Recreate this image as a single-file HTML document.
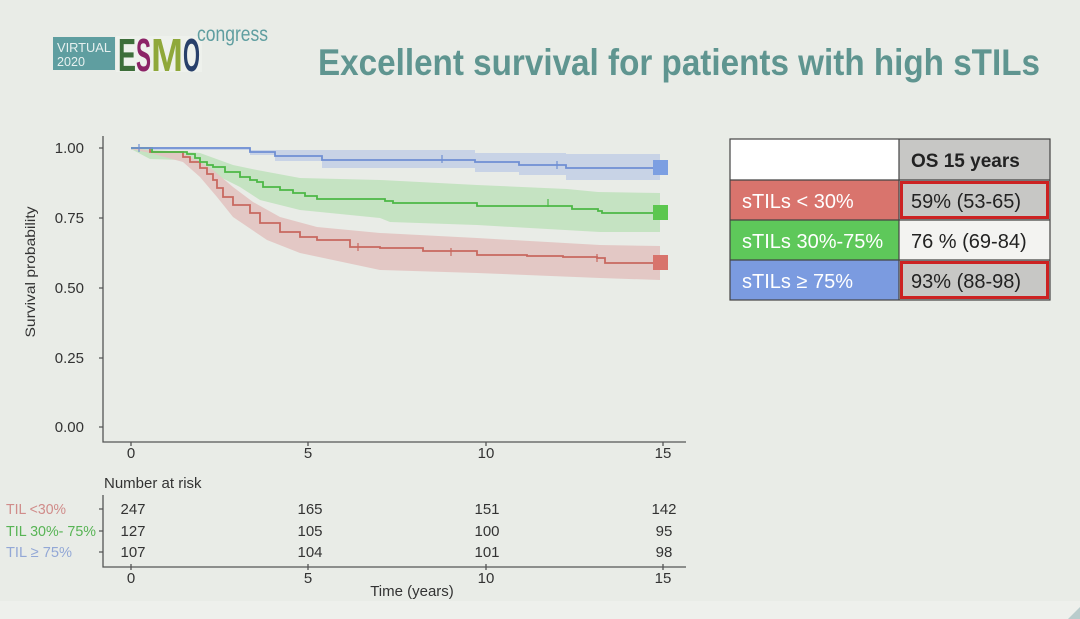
<!DOCTYPE html>
<html><head><meta charset="utf-8">
<style>
html,body{margin:0;padding:0;background:#e9ece7;}
svg{display:block;}
text{font-family:"Liberation Sans",sans-serif;}
</style></head>
<body>
<svg width="1080" height="619" viewBox="0 0 1080 619" xmlns="http://www.w3.org/2000/svg">
<rect width="1080" height="619" fill="#e9ece7"/>
<rect x="0" y="601" width="1080" height="18" fill="#eef0ec"/>
<polygon points="1068,619 1080,607 1080,619" fill="#b9cccc"/>

<!-- Logo -->
<rect x="53" y="37" width="62" height="33" fill="#5f9ea0"/>
<text x="57" y="52" font-size="13" fill="#e6f0ef" textLength="54" lengthAdjust="spacingAndGlyphs">VIRTUAL</text>
<text x="57" y="66" font-size="13" fill="#e6f0ef" textLength="28" lengthAdjust="spacingAndGlyphs">2020</text>
<rect x="116" y="36" width="86" height="36" fill="#eef1ec"/>
<text x="118" y="71" font-size="46" font-weight="bold" fill="#3d6e3a" textLength="18" lengthAdjust="spacingAndGlyphs">E</text>
<text x="136" y="71" font-size="46" font-weight="bold" fill="#8c2467" textLength="15" lengthAdjust="spacingAndGlyphs">S</text>
<text x="151" y="71" font-size="46" font-weight="bold" fill="#8fa83a" textLength="32" lengthAdjust="spacingAndGlyphs">M</text>
<text x="183" y="71" font-size="46" font-weight="bold" fill="#28406a" textLength="17" lengthAdjust="spacingAndGlyphs">O</text>
<text x="197" y="41" font-size="21" fill="#5f9ea0" textLength="71" lengthAdjust="spacingAndGlyphs">congress</text>

<!-- Title -->
<text x="318" y="75" font-size="37" font-weight="bold" fill="#5f9590" textLength="722" lengthAdjust="spacingAndGlyphs">Excellent survival for patients with high sTILs</text>

<!-- Bands -->
<polygon fill="#c8d3e6" points="131,147 250,147 250,150 475,150 475,153 566,153 566,154 660,154 660,180 566,180 566,175 519,175 519,172 475,172 475,168 322,168 322,161 275,161 275,155 250,155 250,150 131,150"/>
<polygon fill="#c3e3c0" fill-opacity="0.95" points="131,147 150,150 187,152 200,153 233,165 257,170 300,178 380,180 477,185 567,189 598,192 660,193 660,232 600,232 477,225 390,222 380,218 300,210 260,200 240,187 210,172 183,160 150,159 131,149"/>
<polygon fill="#e3c6c3" fill-opacity="0.95" points="131,147 150,151 183,153 200,162 213,170 233,187 253,202 280,217 317,227 380,233 477,238 600,245 660,246 660,280 600,278 477,273 380,270 333,260 300,253 267,240 233,217 217,197 200,177 183,162 150,153 131,149"/>

<!-- Lines -->
<path fill="none" stroke="#c8685f" stroke-width="1.8" d="M131,148 H150 V152 H183 V157 H190 V162 H200 V168 H207 V174 H213 V180 H217 V188 H223 V197 H233 V205 H250 V213 H260 V223 H280 V232 H300 V237 H317 V240 H350 V247 H380 V248 H423 V251 H477 V255 H527 V256 H563 V257 H597 V258 H605 V263 H660"/>
<path fill="none" stroke="#4cb846" stroke-width="1.8" d="M131,148 H152 V152 H187 V154 H195 V158 H200 V162 H207 V165 H213 V167 H225 V172 H240 V177 H250 V180 H257 V182 H263 V187 H280 V190 H293 V193 H305 V196 H317 V199 H385 V201 H393 V203 H477 V206 H572 V209 H598 V211 H602 V213 H660"/>
<path fill="none" stroke="#6f8fd3" stroke-width="1.8" d="M131,148 H250 V152 H275 V156 H322 V160 H475 V162 H519 V165 H566 V168 H660"/>
<!-- censor ticks -->
<g stroke-width="1.2">
<path stroke="#6f8fd3" d="M139,144 V152 M442,155 V163 M557,161 V169"/>
<path stroke="#4cb846" d="M548,199 V207"/>
<path stroke="#c8685f" d="M597,254 V262 M358,243 V251 M451,248 V256"/>
</g>

<!-- Markers -->
<rect x="653" y="160" width="15" height="15" fill="#7c9fe2"/>
<rect x="653" y="205" width="15" height="15" fill="#5cc74f"/>
<rect x="653" y="255" width="15" height="15" fill="#d8746c"/>

<!-- Axes main -->
<g stroke="#555" stroke-width="1.3" fill="none">
<path d="M103,136 V442 H686"/>
<path d="M99,148 H103 M99,218 H103 M99,288 H103 M99,358 H103 M99,427 H103"/>
<path d="M131,442 V446 M308,442 V446 M486,442 V446 M663,442 V446"/>
</g>
<g font-size="15" fill="#333" text-anchor="end">
<text x="84" y="153">1.00</text>
<text x="84" y="223">0.75</text>
<text x="84" y="293">0.50</text>
<text x="84" y="363">0.25</text>
<text x="84" y="432">0.00</text>
</g>
<g font-size="15" fill="#333" text-anchor="middle">
<text x="131" y="458">0</text>
<text x="308" y="458">5</text>
<text x="486" y="458">10</text>
<text x="663" y="458">15</text>
</g>
<text transform="translate(35,272) rotate(-90)" font-size="14" fill="#333" text-anchor="middle" textLength="131" lengthAdjust="spacingAndGlyphs">Survival probability</text>

<!-- Risk table -->
<text x="104" y="488" font-size="15" fill="#333">Number at risk</text>
<g stroke="#555" stroke-width="1.3" fill="none">
<path d="M103,495 V567 H686"/>
<path d="M99,509 H103 M99,531 H103 M99,552 H103"/>
<path d="M131,564 V570 M308,564 V570 M486,564 V570 M663,564 V570"/>
</g>
<g font-size="15">
<text x="6" y="514" fill="#d08c8a" textLength="60" lengthAdjust="spacingAndGlyphs">TIL &lt;30%</text>
<text x="6" y="536" fill="#58b455" textLength="90" lengthAdjust="spacingAndGlyphs">TIL 30%- 75%</text>
<text x="6" y="557" fill="#93a8d6" textLength="66" lengthAdjust="spacingAndGlyphs">TIL ≥ 75%</text>
</g>
<g font-size="15" fill="#333" text-anchor="middle">
<text x="133" y="514">247</text><text x="310" y="514">165</text><text x="487" y="514">151</text><text x="664" y="514">142</text>
<text x="133" y="536">127</text><text x="310" y="536">105</text><text x="487" y="536">100</text><text x="664" y="536">95</text>
<text x="133" y="557">107</text><text x="310" y="557">104</text><text x="487" y="557">101</text><text x="664" y="557">98</text>
<text x="131" y="583">0</text><text x="308" y="583">5</text><text x="486" y="583">10</text><text x="663" y="583">15</text>
<text x="412" y="596">Time (years)</text>
</g>

<!-- OS table -->
<rect x="730" y="139" width="169" height="41" fill="#ffffff"/>
<rect x="899" y="139" width="151" height="41" fill="#c7c7c5"/>
<rect x="730" y="180" width="169" height="40" fill="#d9746d"/>
<rect x="730" y="220" width="169" height="40" fill="#5ec85a"/>
<rect x="730" y="260" width="169" height="40" fill="#7b9be0"/>
<rect x="899" y="180" width="151" height="40" fill="#c7c7c5"/>
<rect x="899" y="220" width="151" height="40" fill="#f3f3f1"/>
<rect x="899" y="260" width="151" height="40" fill="#c7c7c5"/>
<g stroke="#444" stroke-width="1.2" fill="none">
<rect x="730" y="139" width="320" height="161"/>
<path d="M899,139 V300 M730,180 H1050 M730,220 H1050 M730,260 H1050"/>
</g>
<g stroke="#cc2222" stroke-width="3" fill="none">
<rect x="901.5" y="182.5" width="146" height="35"/>
<rect x="901.5" y="262.5" width="146" height="35"/>
</g>
<text x="911" y="167" font-size="19" font-weight="bold" fill="#222">OS 15 years</text>
<g font-size="20" fill="#ffffff">
<text x="742" y="208">sTILs &lt; 30%</text>
<text x="742" y="248">sTILs 30%-75%</text>
<text x="742" y="288">sTILs ≥ 75%</text>
</g>
<g font-size="20" fill="#222">
<text x="911" y="208">59% (53-65)</text>
<text x="911" y="248">76 % (69-84)</text>
<text x="911" y="288">93% (88-98)</text>
</g>
</svg>
</body></html>
